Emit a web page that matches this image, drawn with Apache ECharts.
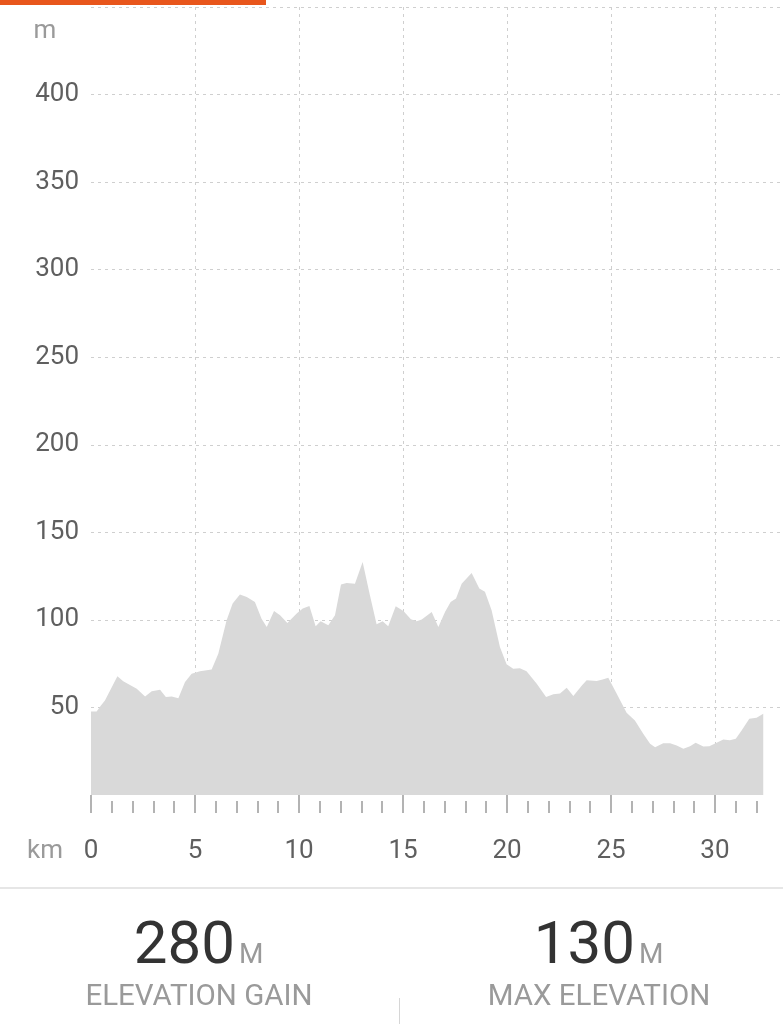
<!DOCTYPE html>
<html>
<head>
<meta charset="utf-8">
<script src="https://cdn.jsdelivr.net/npm/echarts@6/dist/echarts.min.js"></script>
<style>
html,body{margin:0;padding:0;background:#fff;}
#c{width:783px;height:1024px;}
</style>
</head>
<body>
<div id="c"></div>
<script>
// Distance along route (km) and elevation (m)
const distKm = [0,0.27,0.46,0.67,1.27,1.55,2.2,2.6,2.92,3.32,3.6,3.88,4.2,4.52,4.84,5.24,5.8,6.12,6.52,6.81,7.16,7.49,7.88,8.2,8.45,8.8,9.09,9.44,9.89,10.18,10.5,10.8,11.04,11.41,11.73,12.02,12.29,12.69,13.06,13.41,13.73,14.02,14.29,14.65,15.02,15.38,15.66,15.9,16.38,16.7,17.02,17.29,17.55,17.82,18.3,18.67,18.94,19.26,19.66,19.98,20.3,20.62,20.94,21.43,21.88,22.23,22.55,22.87,23.19,23.6,23.83,24.31,24.6,24.87,25.27,25.75,26.15,26.55,26.88,27.12,27.51,27.84,28.16,28.48,28.8,29.07,29.44,29.73,30.08,30.4,30.72,31.0,31.28,31.65,32.0,32.32];
const elevM = [47.7,47.7,50.8,54,67.8,65,60.7,56.3,59.2,60.1,55.9,56.3,55.3,64.5,69.3,70.6,71.6,80.7,99.8,109.3,114.5,113.1,110.2,100.7,95.9,105.1,102.6,98.2,103.6,106.5,108,96.3,99.2,96.9,102.6,120.2,121.1,120.7,133.1,114.1,97.5,99.2,96.3,107.8,105.1,100.3,99.2,100.2,104.5,95.9,104.5,110.2,112.2,120.7,126.8,117.9,116,105.5,84.5,74.6,72.1,72.4,70.6,63.6,55.9,57.5,58,61.3,56.5,62.6,65.5,65.1,65.9,67,57.9,47,42.6,35,29.3,27.3,29.6,29.6,28.3,26.4,27.9,29.8,27.7,27.9,29.8,31.7,31.2,32.1,36.9,43.6,44.1,46.4];

const yLabelValues = [50,100,150,200,250,300,350,400];
const yGridValues = [0,50,100,150,200,250,300,350,400,450];
const xMajorTicks = [0,5,10,15,20,25,30];
const xMinorTicks = [1,2,3,4,6,7,8,9,11,12,13,14,16,17,18,19,21,22,23,24,26,27,28,29,31,32];
const xUnit = 'km';
const yUnit = 'm';
const stats = [
  {value:'280', unit:'M', label:'ELEVATION GAIN'},
  {value:'130', unit:'M', label:'MAX ELEVATION'}
];

const FONT = 'Roboto';
const chart = echarts.init(document.getElementById('c'), null, {renderer:'canvas'});

const gridLine = {show:true, lineStyle:{color:'#cfcfcf', width:1, type:[3,4]}};

const option = {
  animation:false,
  backgroundColor:'#fff',
  grid:{left:91, right:0, top:7, bottom:229, containLabel:false},
  xAxis:[
    {
      type:'value', position:'bottom', min:0, max:33.27, interval:5, offset:6,
      axisLine:{show:false},
      axisTick:{show:true, customValues:xMajorTicks, length:18, lineStyle:{color:'#9a9a9a', width:1.5}},
      axisLabel:{show:true, customValues:xMajorTicks, margin:37, color:'#5f5f5f', fontSize:26, fontFamily:FONT},
      splitLine:Object.assign({showMinLine:false}, gridLine)
    },
    {
      type:'value', position:'bottom', min:0, max:33.27, interval:5, offset:6,
      axisLine:{show:false},
      axisTick:{show:true, customValues:xMinorTicks, length:12, lineStyle:{color:'#9a9a9a', width:1.5}},
      axisLabel:{show:false},
      splitLine:{show:false}
    }
  ],
  yAxis:{
    type:'value', min:0, max:450, interval:50,
    axisLine:{show:false}, axisTick:{show:false},
    axisLabel:{customValues:yLabelValues, margin:12, color:'#5f5f5f', fontSize:26, fontFamily:FONT, padding:[5,0,0,0]},
    splitLine:Object.assign({showMinLine:false}, gridLine)
  },
  series:[{
    type:'line',
    xAxisIndex:0,
    data:distKm.map((d,i)=>[d,elevM[i]]),
    showSymbol:false,
    lineStyle:{width:0},
    areaStyle:{color:'#d9d9d9', opacity:1},
    silent:true
  }],
  graphic:[
    {type:'rect', left:0, top:0, shape:{width:266, height:5}, style:{fill:'#e8561c'}, z:100},
    {type:'text', x:45, y:31, style:{text:yUnit, fill:'#9a9a9a', font:'26px '+FONT, align:'center', verticalAlign:'middle'}},
    {type:'text', x:45, y:851, style:{text:xUnit, fill:'#9a9a9a', font:'26px '+FONT, align:'center', verticalAlign:'middle'}},
    {type:'rect', left:0, top:887, shape:{width:783, height:2}, style:{fill:'#e6e6e6'}},
    {type:'rect', left:399, top:998, shape:{width:1, height:26}, style:{fill:'#d6d6d6'}},
    {type:'text', x:235, y:948, style:{text:stats[0].value, fill:'#333', font:'60px '+FONT, align:'right', verticalAlign:'middle'}},
    {type:'text', x:239, y:956, style:{text:stats[0].unit, fill:'#9a9a9a', font:'28px '+FONT, align:'left', verticalAlign:'middle'}},
    {type:'text', x:199, y:998, style:{text:stats[0].label, fill:'#9a9a9a', font:'29.5px '+FONT, align:'center', verticalAlign:'middle'}},
    {type:'text', x:635, y:948, style:{text:stats[1].value, fill:'#333', font:'60px '+FONT, align:'right', verticalAlign:'middle'}},
    {type:'text', x:639, y:956, style:{text:stats[1].unit, fill:'#9a9a9a', font:'28px '+FONT, align:'left', verticalAlign:'middle'}},
    {type:'text', x:599, y:998, style:{text:stats[1].label, fill:'#9a9a9a', font:'29.5px '+FONT, align:'center', verticalAlign:'middle'}}
  ]
};
chart.setOption(option);
</script>
</body>
</html>
